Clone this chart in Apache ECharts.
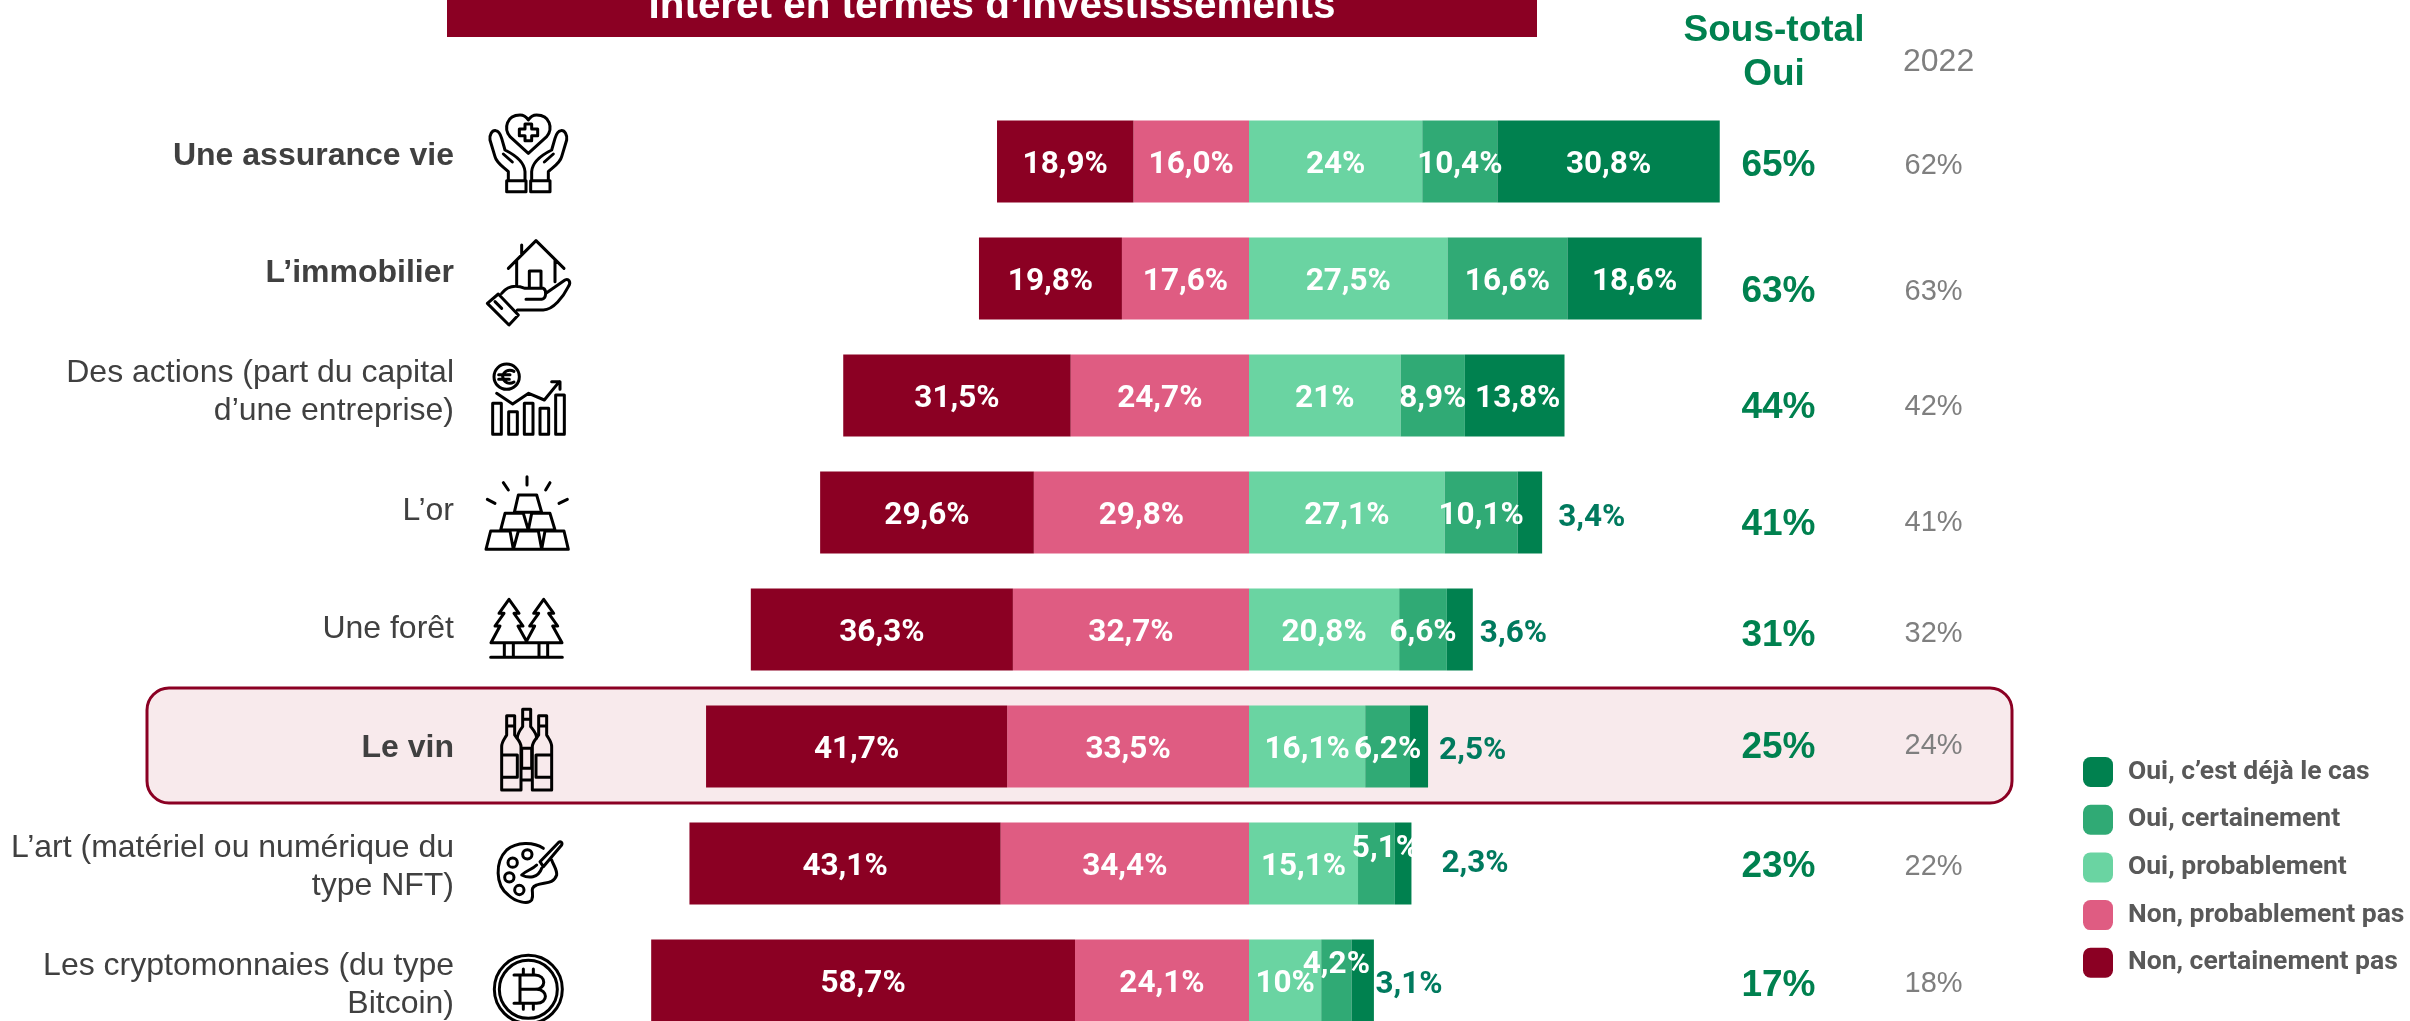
<!DOCTYPE html>
<html lang="fr">
<head>
<meta charset="utf-8">
<title>Intérêt en termes d’investissements</title>
<style>html,body{margin:0;padding:0;background:#fff;overflow:hidden}#c{width:2410px;height:1021px}</style>
<script src="https://cdn.jsdelivr.net/npm/echarts@6/dist/echarts.min.js"></script>
</head>
<body>
<div id="c"></div>
<script>
const categories = ['Une assurance vie','L’immobilier','Des actions (part du capital\nd’une entreprise)','L’or','Une forêt','Le vin','L’art (matériel ou numérique du\ntype NFT)','Les cryptomonnaies (du type\nBitcoin)'];
const nonCertainementPas = [18.9,19.8,31.5,29.6,36.3,41.7,43.1,58.7];
const nonProbablementPas = [16.0,17.6,24.7,29.8,32.7,33.5,34.4,24.1];
const ouiProbablement = [24,27.5,21,27.1,20.8,16.1,15.1,10];
const ouiCertainement = [10.4,16.6,8.9,10.1,6.6,6.2,5.1,4.2];
const ouiDejaLeCas = [30.8,18.6,13.8,3.4,3.6,2.5,2.3,3.1];
const sousTotalOui = [65,63,44,41,31,25,23,17];
const annee2022 = [62,63,42,41,32,24,22,18];
const title = 'Intérêt en termes d’investissements';
const seriesNames = ['Non, certainement pas','Non, probablement pas','Oui, probablement','Oui, certainement','Oui, c’est déjà le cas'];

// Styling and label placement, separate from the data
const C = {dark:'#8B0023',pink:'#DF5C82',light:'#6AD4A2',mid:'#30AA75',deep:'#00814F',teal:'#007A5E',text:'#404040',grey:'#7F7F7F',legend:'#595959'};
const boldRows = [0,1,5];
const catShift = [-5.5,-5.5,-3,-1,0,1.5,4,5];
const subNudge = [4,13,12,12,6,1,3,5];
const y22Nudge = [4,13,11,10.5,4.5,-1,3,3.5];
const certNudge = {6:[9,-14],7:[0,-15]};
const deepInsideNudge = {2:[3,4]};
const deepOutside = {3:[16,5.5],4:[7,4.5],5:[11,5],6:[30,1],7:[1.5,5]};
const X_SUB = 68.2, X_22 = 90.8;

const pct = (v, keep) => (keep ? Math.abs(v).toFixed(1) : String(Math.abs(v))).replace('.', ',') + '%';

function barSeries(name, values, color, opts) {
  opts = opts || {};
  return {
    name, type:'bar', stack:'total', barWidth:82, z:3,
    itemStyle:{color},
    label:{show:true, position:'inside', color:'#fff', fontFamily:'Roboto', fontWeight:'bold', fontSize:31.5, offset:[0,4],
      formatter:p => pct(p.value, opts.keepDecimals && opts.keepDecimals.includes(p.dataIndex))},
    data: values.map((v,i) => {
      const val = opts.negative ? -v : v;
      const label = opts.itemLabel ? opts.itemLabel(i) : null;
      return label ? {value:val, label} : val;
    })
  };
}
function columnSeries(name, xVal, values, nudge, font) {
  return {
    name, type:'scatter', symbolSize:0, silent:true, z:4, animation:false,
    itemStyle:{opacity:1},
    label:Object.assign({show:true, position:'right', distance:0, opacity:1, formatter:p => p.value[2] + '%'}, font),
    data: values.map((v,i) => ({value:[xVal,i,v], label:{offset:[0,nudge[i]]}}))
  };
}

// Category labels: rich text with a thin spacer line to nudge a row up or down
const catRich = {
  n:{fontFamily:'Liberation Sans',fontSize:32,lineHeight:38,color:C.text},
  b:{fontFamily:'Liberation Sans',fontSize:32,lineHeight:38,color:C.text,fontWeight:'bold'}
};
catShift.forEach((s,i) => { if (s) catRich['sp'+i] = {fontSize:1,lineHeight:2*Math.abs(s)}; });
function catFormatter(value, index) {
  const tag = boldRows.includes(index) ? 'b' : 'n';
  const body = value.split('\n').map(l => '{'+tag+'|'+l+'}');
  const s = catShift[index];
  if (s > 0) body.unshift('{sp'+index+'| }');
  if (s < 0) body.push('{sp'+index+'| }');
  return body.join('\n');
}

// Pictograms, decoration only: paths in zoomed local units, drawn at 1/3 scale
const icons = [
 {x:440,y:100,d:'M265 160L210 110C190 85 200 45 240 45C250 45 260 52 265 60C270 52 280 45 290 45C330 45 340 85 320 110Z M255 72H275V87H293V107H275V122H255V107H238V87H255Z M200 242H258V275H200Z M272 242H330V275H272Z M205 240V215C190 200 170 190 165 170L150 120C148 105 155 90 168 92C178 93 182 105 185 115L195 150C215 160 253 180 255 215V240 M325 240V215C340 200 360 190 365 170L380 120C382 105 375 90 362 92C352 93 348 105 345 115L335 150C315 160 277 180 275 215V240 M190 162L217 186 M340 162L313 186'},
 {x:440,y:100,d:'M205 505L288 422L372 505 M245 435V465 M230 480V555 M345 480V545 M268 565V513H303V565 M185 580C205 555 230 555 255 565H310C320 570 320 595 305 598H258 M320 578L375 540C385 535 395 545 385 560C370 590 340 630 310 630H232 M175 582L235 645L207 675L142 610Z M165 605L185 625'},
 {x:440,y:100,d:'M238 830A38 38 0 1 1 162 830A38 38 0 1 1 238 830Z M222 814C205 805 190 815 188 830C190 848 208 855 222 846 M176 824H210 M176 838H208 M170 880L218 912L266 880L313 900L358 845 M335 845H360V868 M158 910H184V1003H158Z M206 935H232V1003H206Z M253 910H279V1003H253Z M300 925H326V1003H300Z M347 885H373V1003H347Z'},
 {x:460,y:460,d:'M163 157L175 105H230L245 157Z M122 210L135 160H190L205 210Z M205 210L215 160H270L285 210Z M78 268L92 213H150L160 268Z M160 268L175 213H235L245 268Z M245 268L255 213H312L325 268Z M201 50V75 M130 68L145 90 M270 68L257 90 M82 118L105 130 M322 118L297 130'},
 {x:440,y:570,d:'M207 88L237 130H222L249 168H234L262 218H153L180 168H165L192 130H177Z M311 88L341 130H326L353 168H338L366 218H257L284 168H269L296 130H281Z M193 218V258 M220 218V258 M297 218V258 M323 218V258 M152 262H367'},
 {x:440,y:570,d:'M200 437H224V495C230 505 243 515 243 530V660H185V530C185 515 195 505 200 495Z M200 468H224 M185 555H232V622H185 M320 437H296V495C290 505 277 515 277 530V660H335V530C335 515 325 505 320 495Z M320 468H296 M335 555H288V622H335 M248 418H272V470C280 480 290 490 290 505 M248 418V470C240 480 232 490 232 505 M248 448H272 M245 535H275V595H245Z M245 630H275'},
 {x:440,y:570,d:'M310 835C280 815 230 815 200 840C165 875 165 945 205 975C225 995 265 1005 275 990C285 970 265 955 290 945C310 935 340 945 350 915C352 900 340 885 335 870 M276 853A14 14 0 1 1 248 853A14 14 0 1 1 276 853Z M232 878A14 14 0 1 1 204 878A14 14 0 1 1 232 878Z M222 922A14 14 0 1 1 194 922A14 14 0 1 1 222 922Z M252 960A14 14 0 1 1 224 960A14 14 0 1 1 252 960Z M300 875L355 818C362 812 368 818 365 825L310 890Z M290 885C275 900 260 900 245 915C265 925 295 925 305 895'},
 {x:440,y:570,d:'M367 1258A102 102 0 1 1 163 1258A102 102 0 1 1 367 1258Z M352 1258A87 87 0 1 1 178 1258A87 87 0 1 1 352 1258Z M222 1215H285C320 1215 320 1258 285 1258H240 M240 1215V1300 M240 1258H290C325 1258 325 1300 290 1300H222 M250 1197V1215 M280 1197V1215 M250 1300V1318 M280 1300V1318'}
];

const graphicEls = [
 {type:'rect', z:-10, shape:{x:147,y:688,width:1865,height:115,r:22}, style:{fill:'#F8EAEC',stroke:C.dark,lineWidth:3}},
 {type:'rect', z:1, shape:{x:447,y:-5,width:1090,height:42}, style:{fill:C.dark}},
 {type:'text', z:2, x:992, y:27, style:{text:title,fill:'#fff',font:'bold 40.4px "Liberation Sans"',align:'center',verticalAlign:'bottom'}},
 {type:'text', z:2, x:1774, y:31, style:{text:'Sous-total',fill:C.deep,font:'bold 37px "Liberation Sans"',align:'center',verticalAlign:'middle'}},
 {type:'text', z:2, x:1774, y:75, style:{text:'Oui',fill:C.deep,font:'bold 37px "Liberation Sans"',align:'center',verticalAlign:'middle'}},
 {type:'text', z:2, x:1903, y:62, style:{text:'2022',fill:C.grey,font:'32px "Liberation Sans"',align:'left',verticalAlign:'middle'}}
];

const chart = echarts.init(document.getElementById('c'), null, {renderer:'canvas'});
chart.setOption({
  animation:false,
  backgroundColor:'#fff',
  graphic:{elements:graphicEls},
  grid:{left:527, width:1444, top:103, height:936, outerBoundsMode:'none'},
  xAxis:{type:'value', min:-100, max:100, show:false},
  yAxis:{
    type:'category', inverse:true,
    data:categories,
    axisLine:{show:false}, axisTick:{show:false},
    axisLabel:{show:true, interval:0, margin:73, color:C.text, fontFamily:'Liberation Sans', fontSize:32, lineHeight:38, align:'right', formatter:catFormatter, rich:catRich}
  },
  legend:{
    show:true, orient:'vertical', left:2083, top:757, padding:0, itemWidth:30, itemHeight:30, itemGap:17.7,
    icon:'roundRect', selectedMode:false,
    data:[seriesNames[4],seriesNames[3],seriesNames[2],seriesNames[1],seriesNames[0]],
    textStyle:{color:C.legend,fontFamily:'Roboto',fontWeight:'bold',fontSize:26.5,padding:[3,0,0,10]}
  },
  tooltip:{show:false},
  series:[
    barSeries(seriesNames[1], nonProbablementPas, C.pink, {negative:true, keepDecimals:[0]}),
    barSeries(seriesNames[0], nonCertainementPas, C.dark, {negative:true}),
    barSeries(seriesNames[2], ouiProbablement, C.light),
    barSeries(seriesNames[3], ouiCertainement, C.mid, {itemLabel:i => certNudge[i] ? {offset:certNudge[i]} : null}),
    barSeries(seriesNames[4], ouiDejaLeCas, C.deep, {itemLabel:i => {
      if (deepOutside[i]) return {position:'right', distance:deepOutside[i][0], offset:[0,deepOutside[i][1]], color:C.teal};
      if (deepInsideNudge[i]) return {offset:deepInsideNudge[i]};
      return null;
    }}),
    columnSeries('Sous-total Oui', X_SUB, sousTotalOui, subNudge, {color:C.deep,fontFamily:'Liberation Sans',fontWeight:'bold',fontSize:37}),
    columnSeries('2022', X_22, annee2022, y22Nudge, {color:C.grey,fontFamily:'Liberation Sans',fontSize:29}),
    {
      name:'Pictogrammes', type:'custom', coordinateSystem:'none', silent:true, z:5, animation:false,
      data:icons.map((_,i) => i),
      renderItem:(params) => {
        const ic = icons[params.dataIndex];
        return {
          type:'path', x:ic.x, y:ic.y, scaleX:1/3, scaleY:1/3,
          shape:{pathData:ic.d},
          style:{fill:null,stroke:'#000',lineWidth:9,lineJoin:'round',lineCap:'round'}
        };
      }
    }
  ]
});
</script>
</body>
</html>
